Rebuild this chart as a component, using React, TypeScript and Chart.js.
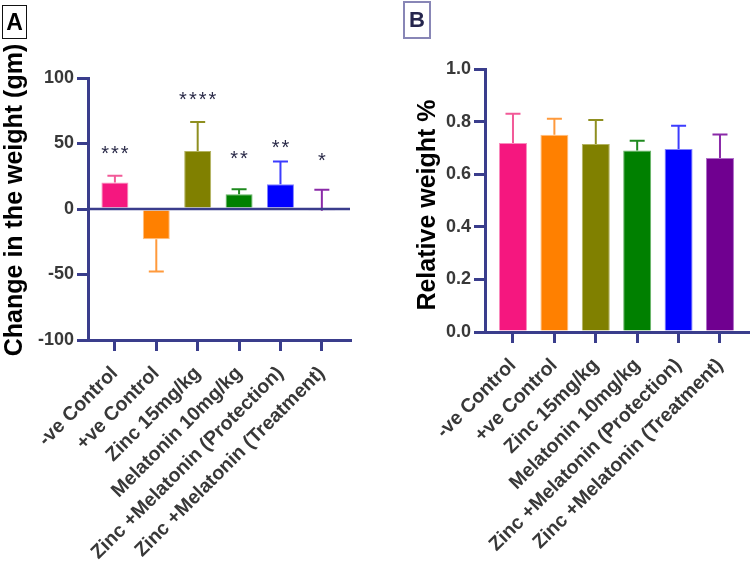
import React, { useEffect, useRef } from 'react';
import { Chart, registerables } from 'chart.js';

Chart.register(...registerables);

// ---------- data ----------
const groups = [
  '-ve Control',
  '+ve Control',
  'Zinc 15mg/kg',
  'Melatonin 10mg/kg',
  'Zinc +Melatonin (Protection)',
  'Zinc +Melatonin (Treatment)',
];

const barColors = ['#f5177f', '#ff8000', '#808000', '#008000', '#0000ff', '#700090'];
const barEdgeColors = ['#f98cbd', '#ffbf80', '#b3b360', '#66b366', '#8080ff', '#b070c8'];
const errColors = ['#f25a98', '#ff9a3c', '#8f8f20', '#1f8a1f', '#3c3cff', '#8a2aa8'];

// Panel A: change in the weight (gm)
const weightChange = [20.3, -23.1, 44.2, 11.2, 18.8, -1.3];
const weightErrEnd = [25.4, -47.7, 66.5, 15.0, 36.3, 14.7];
const weightSig = ['***', '', '****', '**', '**', '*'];
const weightSigAt = [46.2, 0, 87.6, 42.4, 50.5, 40.9];
const weightTicks = [-100, -50, 0, 50, 100];

// Panel B: relative weight %
const relWeight = [0.719, 0.75, 0.715, 0.69, 0.696, 0.662];
const relErrEnd = [0.83, 0.811, 0.806, 0.727, 0.784, 0.751];
const relTicks = [0, 0.2, 0.4, 0.6, 0.8, 1.0];

// ---------- style ----------
const NAVY = '#3a3d8c';
const FONT = '"Liberation Sans", Arial, Helvetica, sans-serif';
const TICK_COLOR = '#383838';

type Spec = {
  values: number[];
  errEnd: number[];
  sig: string[] | null;
  sigAt: number[] | null;
  yTicks: number[];
  yMin: number;
  yMax: number;
  decimals: number;
  xMin: number;
  xMax: number;
  title: string;
  titleX: number;
  titleY: number;
  padding: { left: number; right: number; top: number; bottom: number };
  yWidth: number;
  xHeight: number;
  barPct: number;
  zeroLine: boolean;
};

function makeOverlay(spec: Spec) {
  return {
    id: 'overlay',
    afterDatasetsDraw(chart: any) {
      const { ctx, chartArea } = chart;
      const ys = chart.scales.y;
      const meta = chart.getDatasetMeta(0);
      ctx.save();
      ctx.lineWidth = 2;
      spec.errEnd.forEach((e, i) => {
        const el: any = meta.data[i];
        const x = el.x;
        const yBar = el.y;
        const yErr = ys.getPixelForValue(e);
        ctx.strokeStyle = errColors[i];
        ctx.beginPath();
        ctx.moveTo(x, yBar);
        ctx.lineTo(x, yErr);
        ctx.moveTo(x - 7.5, yErr);
        ctx.lineTo(x + 7.5, yErr);
        ctx.stroke();
      });
      if (spec.zeroLine) {
        const y0 = ys.getPixelForValue(0);
        ctx.strokeStyle = NAVY;
        ctx.lineWidth = 2.5;
        ctx.beginPath();
        ctx.moveTo(chartArea.left, y0);
        ctx.lineTo(chartArea.right, y0);
        ctx.stroke();
      }
      if (spec.sig && spec.sigAt) {
        const size = 20;
        ctx.font = `normal ${size}px ${FONT}`;
        ctx.fillStyle = '#2a2a48';
        ctx.textAlign = 'center';
        ctx.textBaseline = 'alphabetic';
        try {
          (ctx as any).letterSpacing = '2px';
        } catch (err) {
          /* ignore */
        }
        spec.sig.forEach((s, i) => {
          if (!s) return;
          const el: any = meta.data[i];
          const yc = ys.getPixelForValue(spec.sigAt![i]);
          ctx.fillText(s, el.x + 1, yc + 0.57 * size);
        });
      }
      ctx.restore();
    },
    afterDraw(chart: any) {
      const { ctx } = chart;
      ctx.save();
      ctx.translate(spec.titleX, spec.titleY);
      ctx.rotate(-Math.PI / 2);
      ctx.font = `bold 25px ${FONT}`;
      ctx.fillStyle = '#000000';
      ctx.textAlign = 'center';
      ctx.textBaseline = 'middle';
      ctx.fillText(spec.title, 0, 0);
      ctx.restore();
    },
  };
}

function Panel({ spec, left }: { spec: Spec; left: number }) {
  const ref = useRef<HTMLCanvasElement | null>(null);
  useEffect(() => {
    const canvas = ref.current;
    if (!canvas) return;
    const yTickFont = { size: 18, weight: 'bold' as const, family: FONT };
    const xTickFont = { size: 19.5, weight: 'bold' as const, family: FONT };
    const chart = new Chart(canvas, {
      type: 'bar',
      data: {
        datasets: [
          {
            data: spec.values.map((v, i) => ({ x: i, y: v })),
            backgroundColor: barColors,
            borderColor: barEdgeColors,
            borderWidth: 1,
            barPercentage: spec.barPct,
            categoryPercentage: 1,
          },
        ],
      },
      options: {
        responsive: false,
        animation: false,
        devicePixelRatio: 1,
        layout: { padding: spec.padding },
        plugins: { legend: { display: false }, tooltip: { enabled: false }, title: { display: false } },
        scales: {
          x: {
            type: 'linear',
            min: spec.xMin,
            max: spec.xMax,
            offset: false,
            afterBuildTicks: (s: any) => {
              s.ticks = groups.map((_, i) => ({ value: i }));
            },
            afterFit: (s: any) => {
              s.height = spec.xHeight;
            },
            ticks: {
              callback: (v: any) => groups[Math.round(Number(v))] ?? '',
              minRotation: 45,
              maxRotation: 45,
              autoSkip: false,
              font: xTickFont,
              color: TICK_COLOR,
              padding: 11,
            },
            grid: {
              display: true,
              drawOnChartArea: false,
              drawTicks: true,
              tickLength: 11,
              tickColor: NAVY,
              lineWidth: 3,
              offset: false,
            },
            border: { display: true, color: NAVY, width: 3 },
          },
          y: {
            type: 'linear',
            min: spec.yMin,
            max: spec.yMax,
            afterBuildTicks: (s: any) => {
              s.ticks = spec.yTicks.map((v) => ({ value: v }));
            },
            afterFit: (s: any) => {
              s.width = spec.yWidth;
            },
            ticks: {
              callback: (v: any) => Number(v).toFixed(spec.decimals),
              font: yTickFont,
              color: TICK_COLOR,
              padding: 3,
            },
            grid: {
              display: true,
              drawOnChartArea: false,
              drawTicks: true,
              tickLength: 11,
              tickColor: NAVY,
              lineWidth: 3,
            },
            border: { display: true, color: NAVY, width: 3 },
          },
        },
      } as any,
      plugins: [makeOverlay(spec)],
    });
    return () => chart.destroy();
  }, [spec]);
  return (
    <canvas
      ref={ref}
      width={375}
      height={563}
      style={{ position: 'absolute', left, top: 0, width: 375, height: 563, display: 'block' }}
    />
  );
}

const specA: Spec = {
  values: weightChange,
  errEnd: weightErrEnd,
  sig: weightSig,
  sigAt: weightSigAt,
  yTicks: weightTicks,
  yMin: -100,
  yMax: 100,
  decimals: 0,
  xMin: -0.65,
  xMax: 5.68,
  title: 'Change in the weight (gm)',
  titleX: 15,
  titleY: 200,
  padding: { left: 0, right: 25, top: 78, bottom: 0 },
  yWidth: 88,
  xHeight: 223,
  barPct: 0.652,
  zeroLine: true,
};

const specB: Spec = {
  values: relWeight,
  errEnd: relErrEnd,
  sig: null,
  sigAt: null,
  yTicks: relTicks,
  yMin: 0,
  yMax: 1,
  decimals: 1,
  xMin: -0.676,
  xMax: 5.725,
  title: 'Relative weight %',
  titleX: 53,
  titleY: 205,
  padding: { left: 0, right: 0, top: 69, bottom: 0 },
  yWidth: 110,
  xHeight: 231,
  barPct: 0.676,
  zeroLine: false,
};

export default function App() {
  return (
    <div
      style={{
        position: 'fixed',
        left: 0,
        top: 0,
        width: 750,
        height: 563,
        background: '#ffffff',
        overflow: 'hidden',
        fontFamily: FONT,
      }}
    >
      <Panel spec={specA} left={0} />
      <Panel spec={specB} left={375} />
      <div
        style={{
          position: 'absolute',
          left: 2,
          top: 5,
          width: 25,
          height: 34,
          boxSizing: 'border-box',
          border: '1.5px solid #111111',
          display: 'flex',
          alignItems: 'center',
          justifyContent: 'center',
          fontWeight: 'bold',
          fontSize: 23,
          color: '#000000',
          lineHeight: 1,
        }}
      >
        A
      </div>
      <div
        style={{
          position: 'absolute',
          left: 403,
          top: 1,
          width: 28,
          height: 38,
          boxSizing: 'border-box',
          border: '2px solid #8886b6',
          display: 'flex',
          alignItems: 'center',
          justifyContent: 'center',
          fontWeight: 'bold',
          fontSize: 22,
          color: '#25254d',
          lineHeight: 1,
        }}
      >
        B
      </div>
    </div>
  );
}
